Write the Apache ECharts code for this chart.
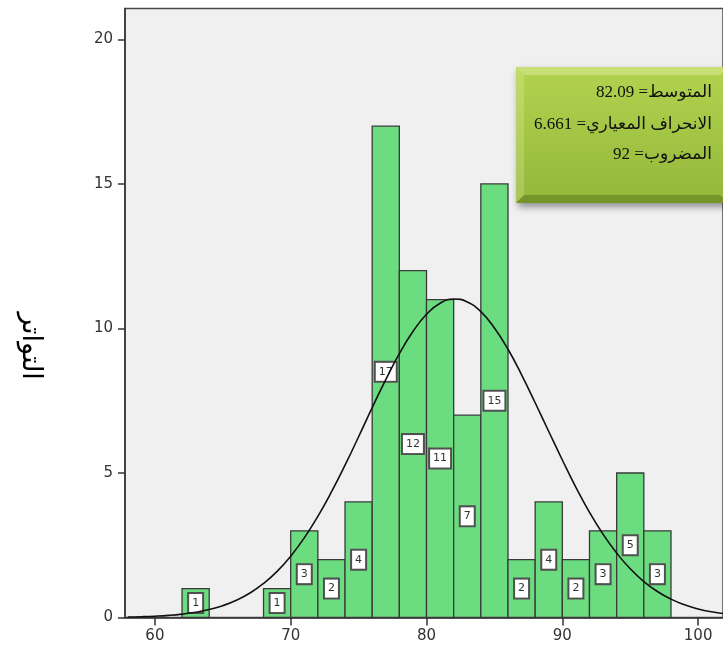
<!DOCTYPE html>
<html>
<head>
<meta charset="utf-8">
<script src="https://cdn.jsdelivr.net/npm/echarts@6/dist/echarts.min.js"></script>
<style>
  html, body { margin: 0; padding: 0; background: #ffffff; }
  #chart { width: 723px; height: 650px; direction: rtl; }
</style>
</head>
<body>
<div id="chart"></div>
<script>
// Histogram bins: left edge of each 2-point bin and its frequency
const binLeft = [62, 68, 70, 72, 74, 76, 78, 80, 82, 84, 86, 88, 90, 92, 94, 96];
const binCounts = [1, 1, 3, 2, 4, 17, 12, 11, 7, 15, 2, 4, 2, 3, 5, 3];
const binWidth = 2;

// Fitted normal curve (mean 82.09, sd 6.661, scaled to N = 92 and bin width 2)
const curveX = [58, 59, 60, 61, 62, 63, 64, 65, 66, 67, 68, 69, 70, 71, 72, 73, 74, 75, 76, 77, 78, 79, 80,
                81, 82, 83, 84, 85, 86, 87, 88, 89, 90, 91, 92, 93, 94, 95, 96, 97, 98, 99, 100, 101, 102];
const curveY = [0.016, 0.027, 0.045, 0.073, 0.117, 0.181, 0.276, 0.410, 0.596, 0.847, 1.177, 1.598, 2.123,
                2.756, 3.50, 4.343, 5.27, 6.254, 7.26, 8.230, 9.13, 9.896, 10.49, 10.873, 11.019, 10.918,
                10.58, 10.017, 9.28, 8.398, 7.43, 6.435, 5.45, 4.504, 3.64, 2.881, 2.23, 1.685, 1.245,
                0.900, 0.635, 0.439, 0.297, 0.196, 0.127];

// Axis ticks
const xTicks = [60, 70, 80, 90, 100];
const yTicks = [0, 5, 10, 15, 20];

// Summary statistics box
const statLines = ['المتوسط= 82.09', 'الانحراف المعياري= 6.661', 'المضروب= 92'];
const yAxisTitle = 'التواتر';

const chart = echarts.init(document.getElementById('chart'), null, { renderer: 'canvas' });

const histData = binLeft.map((x, i) => [x, x + binWidth, binCounts[i]]);
const curveData = curveX.map((x, i) => [x, curveY[i]]);

const serifArabic = 'Liberation Serif, DejaVu Sans';

function statText(line, y) {
  return {
    type: 'text',
    x: 196, y: y,
    style: {
      text: line, fontSize: 17, fill: '#111',
      fontFamily: serifArabic,
      align: 'right', verticalAlign: 'middle'
    }
  };
}

const option = {
  animation: false,
  backgroundColor: '#ffffff',
  grid: {
    left: 125, top: 8.5, right: -2, bottom: 32.5,
    show: true,
    backgroundColor: '#f0f0f0',
    borderColor: '#4a4a4a',
    borderWidth: 1.5
  },
  xAxis: {
    type: 'value',
    min: 57.8,
    max: 101.83,
    splitLine: { show: false },
    axisLine: { show: true, lineStyle: { color: '#333', width: 1.5 } },
    axisTick: { show: true, length: 8, customValues: xTicks, lineStyle: { color: '#333', width: 1.5 } },
    axisLabel: {
      customValues: xTicks, margin: 11, fontSize: 15,
      fontFamily: 'DejaVu Sans', color: '#333'
    }
  },
  yAxis: {
    type: 'value',
    min: 0,
    max: 21.07,
    splitLine: { show: false },
    axisLine: { show: true, lineStyle: { color: '#333', width: 1.5 } },
    axisTick: { show: true, length: 7, customValues: yTicks, lineStyle: { color: '#333', width: 1.5 } },
    axisLabel: {
      customValues: yTicks, margin: 12, fontSize: 15,
      fontFamily: 'DejaVu Sans', color: '#333'
    }
  },
  series: [
    {
      type: 'custom',
      data: histData,
      encode: { x: [0, 1], y: 2 },
      renderItem: function (params, api) {
        const x0 = api.value(0), x1 = api.value(1), v = api.value(2);
        const p0 = api.coord([x0, 0]);
        const p1 = api.coord([x1, v]);
        return {
          type: 'rect',
          shape: { x: p0[0], y: p1[1], width: p1[0] - p0[0], height: p0[1] - p1[1] },
          style: { fill: '#6cdc80', stroke: '#3a3a3a', lineWidth: 1.3 },
          textContent: {
            type: 'text',
            style: {
              text: String(v),
              fill: '#333',
              fontSize: 11,
              fontFamily: 'DejaVu Sans',
              backgroundColor: '#ffffff',
              borderColor: '#505050',
              borderWidth: 2,
              padding: [4, 3, 3, 3]
            }
          },
          textConfig: { position: 'inside' }
        };
      },
      z: 2
    },
    {
      type: 'line',
      data: curveData,
      smooth: true,
      showSymbol: false,
      lineStyle: { color: '#111', width: 1.6 },
      z: 3
    }
  ],
  graphic: [
    // rotated y-axis title
    {
      type: 'text',
      x: 30, y: 346,
      rotation: -Math.PI / 2,
      style: {
        text: yAxisTitle,
        fontSize: 27,
        fontFamily: serifArabic,
        fill: '#000',
        align: 'center',
        verticalAlign: 'middle'
      }
    },
    // statistics panel with bevelled edges
    {
      type: 'group',
      x: 516, y: 67,
      children: [
        {
          type: 'rect',
          shape: { x: 0, y: 0, width: 212, height: 136 },
          style: {
            fill: new echarts.graphic.LinearGradient(0, 0, 0, 1, [
              { offset: 0, color: '#b3d34f' },
              { offset: 1, color: '#92b73a' }
            ]),
            shadowBlur: 7, shadowOffsetX: 2, shadowOffsetY: 4,
            shadowColor: 'rgba(0,0,0,0.4)'
          }
        },
        { // top bevel
          type: 'polygon',
          shape: { points: [[0, 0], [212, 0], [204, 8], [8, 8]] },
          style: { fill: 'rgba(255,255,210,0.3)' }
        },
        { // left bevel
          type: 'polygon',
          shape: { points: [[0, 0], [8, 8], [8, 128], [0, 136]] },
          style: { fill: 'rgba(255,255,210,0.2)' }
        },
        { // bottom bevel
          type: 'polygon',
          shape: { points: [[0, 136], [8, 128], [204, 128], [212, 136]] },
          style: { fill: 'rgba(50,70,0,0.3)' }
        },
        statText(statLines[0], 26),
        statText(statLines[1], 58),
        statText(statLines[2], 88)
      ]
    }
  ]
};

chart.setOption(option);
</script>
</body>
</html>
